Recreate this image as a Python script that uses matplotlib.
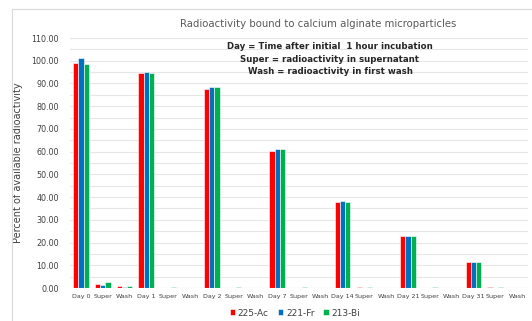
import numpy as np
import matplotlib.pyplot as plt
from matplotlib.patches import Rectangle

categories = []
for d in ["Day 0", "Day 1", "Day 2", "Day 7", "Day 14", "Day 21", "Day 31"]:
    categories += [d, "Super", "Wash"]

ac225 = [99.2, 1.8, 0.7, 94.5, 0.2, 0.05, 87.7, 0.2, 0.05, 60.5, 0.05, 0.0,
         37.8, 0.3, 0.0, 22.7, 0.05, 0.0, 11.3, 0.3, 0.0]
fr221 = [101.2, 1.2, 0.6, 95.2, 0.1, 0.0, 88.5, 0.1, 0.0, 61.0, 0.05, 0.0,
         38.2, 0.1, 0.0, 23.0, 0.05, 0.0, 11.5, 0.1, 0.0]
bi213 = [98.7, 2.8, 1.1, 94.8, 0.4, 0.05, 88.3, 0.4, 0.05, 61.0, 0.3, 0.0,
         38.0, 0.3, 0.0, 23.0, 0.3, 0.0, 11.5, 0.6, 0.0]

series = [("225-Ac", ac225, "#ff0000"),
          ("221-Fr", fr221, "#0070c0"),
          ("213-Bi", bi213, "#00b050")]

fig = plt.figure(figsize=(5.32, 3.21), dpi=100)
fig.patches.append(Rectangle((12 / 532, -0.1), 1.2, 1 - 9 / 321 + 0.1,
                             transform=fig.transFigure, fill=False,
                             edgecolor="#d9d9d9", linewidth=0.8))

ax = fig.add_axes([70 / 532, 1 - 288 / 321, 458 / 532, 250 / 321])
x = np.arange(len(categories))
w = 0.24
for i, (name, vals, col) in enumerate(series):
    ax.bar(x + (i - 1) * w, vals, w, color=col, edgecolor="white",
           linewidth=0.4, label=name, zorder=3)

ax.set_xlim(-0.5, len(categories) - 0.5)
ax.set_ylim(0, 110)
ax.set_yticks(np.arange(0, 111, 10))
ax.set_yticklabels([f"{v:.2f}" for v in np.arange(0, 111, 10)])
ax.set_yticks(np.arange(5, 110, 10), minor=True)
ax.grid(axis="y", which="both", color="#e6e6e6", linewidth=0.8, zorder=0)
ax.set_xticks(x)
ax.set_xticklabels(categories, fontsize=4.6, color="#404040")
ax.tick_params(axis="y", labelsize=5.8, colors="#404040", length=0, pad=8)
ax.tick_params(axis="x", length=0, pad=4)
ax.tick_params(which="minor", length=0)
for s in ax.spines.values():
    s.set_visible(False)
ax.axhline(0, color="#d9d9d9", linewidth=0.8, zorder=4)

ax.set_ylabel("Percent of available radioactivity", fontsize=7, color="#404040",
              labelpad=6)
fig.text(318 / 532, 1 - 24 / 321, "Radioactivity bound to calcium alginate microparticles",
         ha="center", va="center", fontsize=7.3, color="#595959")
fig.text(330 / 532, 1 - 59 / 321,
         "Day = Time after initial  1 hour incubation\n"
         "Super = radioactivity in supernatant\n"
         "Wash = radioactivity in first wash",
         ha="center", va="center", fontsize=6.2, fontweight="bold",
         color="#262626", linespacing=1.45)

fig.legend(loc="center", bbox_to_anchor=(295 / 532, 1 - 313 / 321), ncol=3,
           frameon=False, fontsize=6.5, handlelength=0.6, handleheight=0.6,
           columnspacing=1.0, handletextpad=0.3, labelcolor="#404040")

fig.savefig("out.png", dpi=100)
